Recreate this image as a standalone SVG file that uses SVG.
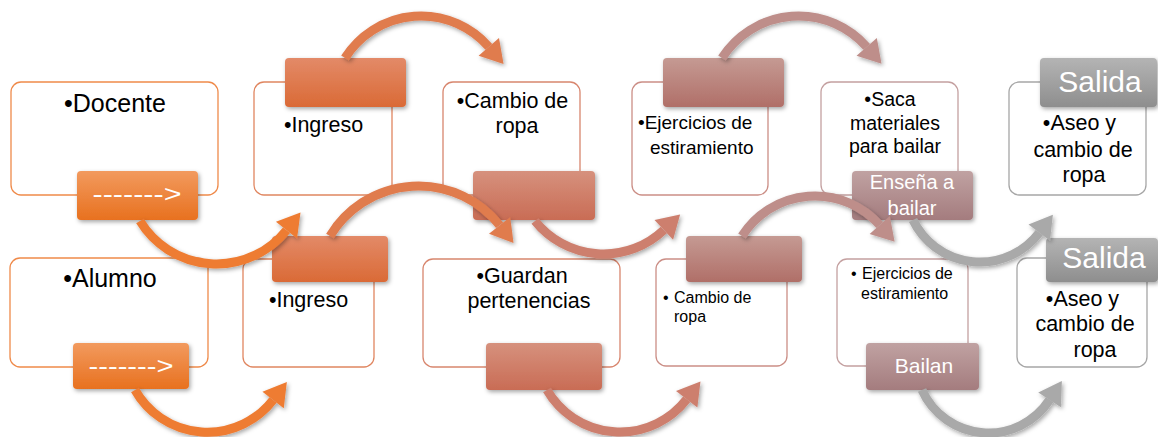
<svg xmlns="http://www.w3.org/2000/svg" width="1158" height="437" viewBox="0 0 1158 437">
<defs>
<style>
text{font-family:"Liberation Sans",Arial,sans-serif;fill:#000}
.box{fill:#fff;stroke-width:1.3}
.tt{fill:#fff}
.arc{fill:none;stroke-width:9;filter:url(#sh)}
.tab{filter:url(#sh)}
</style>
<filter id="sh" x="-20%" y="-20%" width="140%" height="150%">
<feDropShadow dx="1.5" dy="2" stdDeviation="2" flood-color="#000" flood-opacity="0.35"/>
</filter>
<linearGradient id="g1" x1="0" y1="0" x2="0" y2="1"><stop offset="0" stop-color="#F29A5E"/><stop offset="1" stop-color="#E8711F"/></linearGradient>
<linearGradient id="g2" x1="0" y1="0" x2="0" y2="1"><stop offset="0" stop-color="#E38A68"/><stop offset="1" stop-color="#DA6A36"/></linearGradient>
<linearGradient id="g3" x1="0" y1="0" x2="0" y2="1"><stop offset="0" stop-color="#D6917D"/><stop offset="1" stop-color="#C96C55"/></linearGradient>
<linearGradient id="g4" x1="0" y1="0" x2="0" y2="1"><stop offset="0" stop-color="#C59A93"/><stop offset="1" stop-color="#B06F68"/></linearGradient>
<linearGradient id="g5" x1="0" y1="0" x2="0" y2="1"><stop offset="0" stop-color="#C0A2A2"/><stop offset="1" stop-color="#A47C7E"/></linearGradient>
<linearGradient id="g6" x1="0" y1="0" x2="0" y2="1"><stop offset="0" stop-color="#B4B4B4"/><stop offset="1" stop-color="#8E8E8E"/></linearGradient>
<marker id="m1" markerUnits="userSpaceOnUse" markerWidth="30" markerHeight="30" refX="0" refY="10" orient="auto" viewBox="0 0 16 20"><polygon points="0,1 15,10 0,19" fill="#EE7C33"/></marker>
<marker id="m2" markerUnits="userSpaceOnUse" markerWidth="30" markerHeight="30" refX="0" refY="10" orient="auto" viewBox="0 0 16 20"><polygon points="0,1 15,10 0,19" fill="#E07B4E"/></marker>
<marker id="m3" markerUnits="userSpaceOnUse" markerWidth="30" markerHeight="30" refX="0" refY="10" orient="auto" viewBox="0 0 16 20"><polygon points="0,1 15,10 0,19" fill="#CD7F6E"/></marker>
<marker id="m4" markerUnits="userSpaceOnUse" markerWidth="30" markerHeight="30" refX="0" refY="10" orient="auto" viewBox="0 0 16 20"><polygon points="0,1 15,10 0,19" fill="#BE8E8A"/></marker>
<marker id="m5" markerUnits="userSpaceOnUse" markerWidth="30" markerHeight="30" refX="0" refY="10" orient="auto" viewBox="0 0 16 20"><polygon points="0,1 15,10 0,19" fill="#A9A9A9"/></marker>
</defs>
<rect width="1158" height="437" fill="#fff"/>

<g id="docente">
<rect class="box" x="11" y="82" width="207" height="113" rx="10" stroke="#EF8A4A"/>
<text x="115" y="112" font-size="25" text-anchor="middle">•Docente</text>
<rect class="tab" x="77" y="171" width="121" height="49" rx="4" fill="url(#g1)"/>
<text class="tt" x="137" y="202" font-size="24" text-anchor="middle" textLength="89" lengthAdjust="spacingAndGlyphs">-------&gt;</text>
</g>

<g id="alumno">
<rect class="box" x="10" y="258" width="198" height="109" rx="10" stroke="#EF8A4A"/>
<text x="110" y="287" font-size="25" text-anchor="middle">•Alumno</text>
<rect class="tab" x="73" y="343" width="116" height="46" rx="4" fill="url(#g1)"/>
<text class="tt" x="131" y="374" font-size="24" text-anchor="middle" textLength="85" lengthAdjust="spacingAndGlyphs">-------&gt;</text>
</g>

<g id="ingreso-top">
<rect class="box" x="254" y="82" width="138" height="113" rx="10" stroke="#E08660"/>
<text x="323.5" y="132" font-size="21.5" text-anchor="middle">•Ingreso</text>
<rect class="tab" x="285" y="58" width="121" height="49" rx="4" fill="url(#g2)"/>
</g>

<g id="cambio-top">
<rect class="box" x="443" y="82" width="137" height="113" rx="10" stroke="#D8866E"/>
<text x="512.5" y="108" font-size="21.5" text-anchor="middle">•Cambio de</text>
<text x="517" y="133" font-size="21.5" text-anchor="middle">ropa</text>
<rect class="tab" x="473" y="171" width="122" height="49" rx="4" fill="url(#g3)"/>
</g>

<g id="ingreso-bottom">
<rect class="box" x="243" y="259" width="131" height="108" rx="10" stroke="#E08660"/>
<text x="308.5" y="307" font-size="21.5" text-anchor="middle">•Ingreso</text>
<rect class="tab" x="272" y="236" width="116" height="46" rx="4" fill="url(#g2)"/>
</g>

<g id="guardan">
<rect class="box" x="423" y="259" width="197" height="108" rx="10" stroke="#D8866E"/>
<text x="522" y="283" font-size="21.5" text-anchor="middle">•Guardan</text>
<text x="529" y="308" font-size="21.5" text-anchor="middle">pertenencias</text>
<rect class="tab" x="486" y="343" width="116" height="47" rx="4" fill="url(#g3)"/>
</g>

<g id="ejercicios-top">
<rect class="box" x="632" y="82" width="136" height="113" rx="10" stroke="#CB8E86"/>
<text x="638" y="129" font-size="19">•Ejercicios de</text>
<text x="650" y="154" font-size="19">estiramiento</text>
<rect class="tab" x="663" y="58" width="121" height="49" rx="4" fill="url(#g4)"/>
</g>

<g id="saca">
<rect class="box" x="821" y="82" width="137" height="113" rx="10" stroke="#C4A0A0"/>
<text x="890" y="106" font-size="19.5" text-anchor="middle">•Saca</text>
<text x="895" y="130" font-size="19.5" text-anchor="middle">materiales</text>
<text x="895" y="153" font-size="19.5" text-anchor="middle">para bailar</text>
<rect class="tab" x="852" y="171" width="121" height="49" rx="4" fill="url(#g5)"/>
<text class="tt" x="912" y="189" font-size="20" text-anchor="middle">Enseña a</text>
<text class="tt" x="912" y="215" font-size="20" text-anchor="middle">bailar</text>
</g>

<g id="cambio-bottom">
<rect class="box" x="656" y="259" width="131" height="107" rx="10" stroke="#CB8E86"/>
<text x="663" y="303" font-size="16">•</text>
<text x="674" y="303" font-size="16">Cambio de</text>
<text x="674" y="322" font-size="16">ropa</text>
<rect class="tab" x="686" y="236" width="116" height="46" rx="4" fill="url(#g4)"/>
</g>

<g id="ejercicios-bottom">
<rect class="box" x="837" y="259" width="131" height="107" rx="10" stroke="#C4A0A0"/>
<text x="851" y="279" font-size="16">•</text>
<text x="862" y="279" font-size="16">Ejercicios de</text>
<text x="861" y="299" font-size="16">estiramiento</text>
<rect class="tab" x="866" y="343" width="113" height="47" rx="4" fill="url(#g5)"/>
<text class="tt" x="924" y="373" font-size="21" text-anchor="middle">Bailan</text>
</g>

<g id="salida-top">
<rect class="box" x="1009" y="82" width="137" height="113" rx="10" stroke="#A6A6A6"/>
<text x="1079.5" y="130" font-size="21.5" text-anchor="middle">•Aseo y</text>
<text x="1083" y="157" font-size="21.5" text-anchor="middle">cambio de</text>
<text x="1084" y="182" font-size="21.5" text-anchor="middle">ropa</text>
<rect class="tab" x="1040" y="58" width="117" height="49" rx="4" fill="url(#g6)"/>
<text class="tt" x="1100" y="92" font-size="30" text-anchor="middle">Salida</text>
</g>

<g id="salida-bottom">
<rect class="box" x="1017" y="258" width="130" height="109" rx="10" stroke="#A6A6A6"/>
<text x="1082.5" y="306" font-size="21.5" text-anchor="middle">•Aseo y</text>
<text x="1085" y="331" font-size="21.5" text-anchor="middle">cambio de</text>
<text x="1095" y="357" font-size="21.5" text-anchor="middle">ropa</text>
<rect class="tab" x="1046" y="238" width="112" height="44" rx="4" fill="url(#g6)"/>
<text class="tt" x="1104" y="268" font-size="30" text-anchor="middle">Salida</text>
</g>

<g id="connectors">
<path class="arc" d="M140 221 A89.5 89.5 0 0 0 286.5 230.2" stroke="#EE7C33" marker-end="url(#m1)"/>
<path class="arc" d="M135 390 A83.1 83.1 0 0 0 273.1 399.9" stroke="#EE7C33" marker-end="url(#m1)"/>
<path class="arc" d="M345 58 A89.8 89.8 0 0 1 488.8 46.9" stroke="#E07B4E" marker-end="url(#m2)"/>
<path class="arc" d="M330 236 A103.3 103.3 0 0 1 499.6 225.3" stroke="#E07B4E" marker-end="url(#m2)"/>
<path class="arc" d="M535 221 A87.6 87.6 0 0 0 663.8 229.9" stroke="#CD7F6E" marker-end="url(#m3)"/>
<path class="arc" d="M547 390 A84.4 84.4 0 0 0 686.7 399.3" stroke="#CD7F6E" marker-end="url(#m3)"/>
<path class="arc" d="M722 58 A90.7 90.7 0 0 1 866.7 46.9" stroke="#BE8E8A" marker-end="url(#m4)"/>
<path class="arc" d="M742 236 A86.6 86.6 0 0 1 879.7 225" stroke="#BE8E8A" marker-end="url(#m4)"/>
<path class="arc" d="M913 220 A74.4 74.4 0 0 0 1039.3 232.6" stroke="#A9A9A9" marker-end="url(#m5)"/>
<path class="arc" d="M922 390 A72.9 72.9 0 0 0 1049.6 399.8" stroke="#A9A9A9" marker-end="url(#m5)"/>
</g>
</svg>
